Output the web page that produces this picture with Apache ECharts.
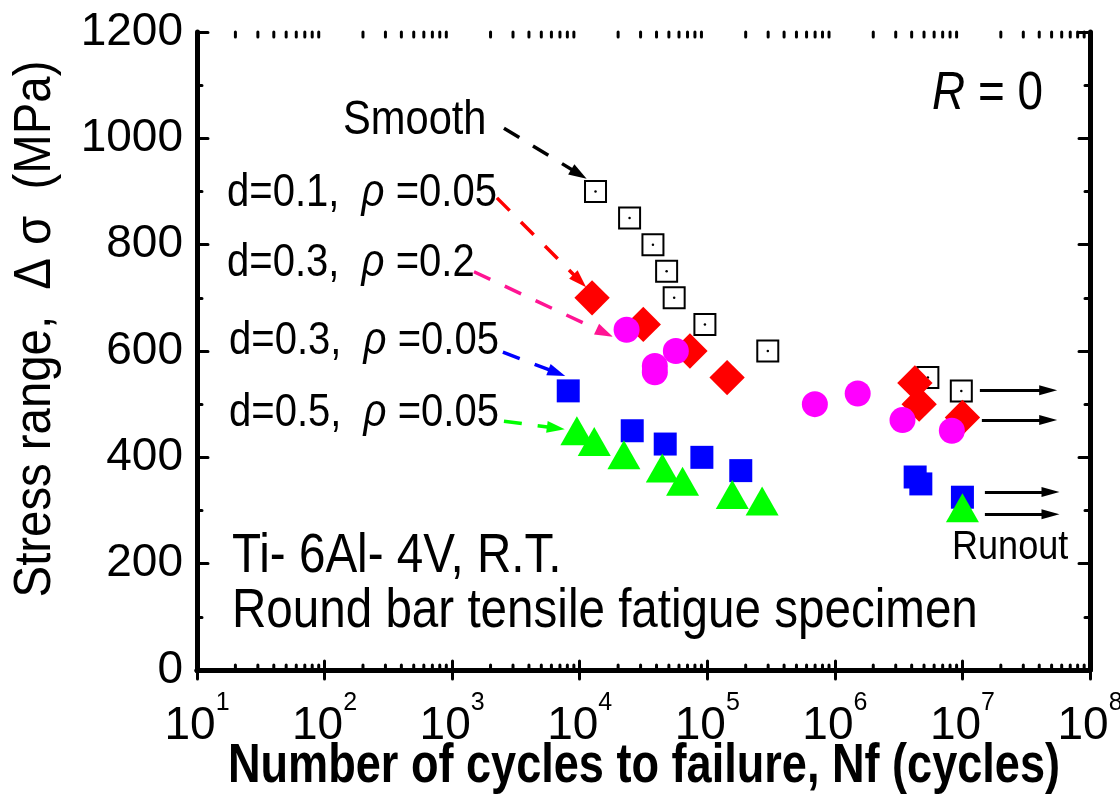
<!DOCTYPE html>
<html>
<head>
<meta charset="utf-8">
<script src="https://cdn.jsdelivr.net/npm/echarts@6/dist/echarts.min.js"></script>
</head>
<body style="margin:0;background:#fff">
<div id="main" style="width:1120px;height:795px;"></div>
<script type="text/javascript">
// number of cycles / stress range
var smoothN = [13300, 24600, 37500, 48000, 55000, 95800, 298000, 5360000, 9800000];
var smoothS = [900, 850, 800, 750, 700, 650, 600, 550, 525];
var d01N = [12500, 31500, 73100, 143000, 4240000, 4580000, 10000000];
var d01S = [700, 650, 600, 550, 540, 500, 475];
var d03r02N = [23300, 38800, 38800, 56700, 697000, 1510000, 3390000, 8260000];
var d03r02S = [640, 572, 560, 600, 500, 520, 470, 450];
var d03N = [8130, 25800, 46800, 90700, 183000, 4260000, 4720000, 10000000];
var d03S = [525, 450, 425, 400, 375, 363, 350, 325];
var d05N = [9500, 13000, 22200, 44400, 64000, 157000, 269000, 10000000];
var d05S = [450, 430, 405, 380, 355, 330, 318, 305];
var runoutS = [526, 470, 335, 293];
var xDecades = [1, 2, 3, 4, 5, 6, 7, 8];
var minorSteps = [2, 3, 4, 5, 6, 7, 8, 9];

var FONT = '"Liberation Sans", Arial, sans-serif';

function pairs(xs, ys) {
    return xs.map(function (x, i) { return [x, ys[i]]; });
}

// minor ticks of the log axis (2..9 in each decade)
var minorX = [];
for (var d = 0; d < xDecades.length - 1; d++) {
    for (var k = 0; k < minorSteps.length; k++) {
        minorX.push([minorSteps[k] * Math.pow(10, xDecades[d]), 0]);
    }
}

var myChart = echarts.init(document.getElementById('main'), null, {renderer: 'canvas'});

var axisLineStyle = {color: '#000', width: 5};
var tickStyle = {color: '#000', width: 3, cap: 'round'};

function arrowLine(p1, p2, color) {
    return [{coord: p1, lineStyle: {color: color}}, {coord: p2}];
}

// condensed looking text: the original font is narrow, so squeeze it a bit
function txt(x, y, text, font, sx, extra) {
    var el = {type: 'text', x: x, y: y, scaleX: sx, silent: true,
        style: {text: text, font: font, fill: '#000', verticalAlign: 'middle'}};
    if (extra) {
        for (var key in extra) { el.style[key] = extra[key]; }
    }
    return el;
}
function rhoLabel(x, y, text) {
    return txt(x, y, text, '46px ' + FONT, 0.87, {
        rich: {
            n: {fontFamily: FONT, fontSize: 46, fill: '#000'},
            g: {fontFamily: FONT, fontSize: 46, fontStyle: 'italic', fill: '#000'}
        }
    });
}

var option = {
    animation: false,
    backgroundColor: '#fff',
    grid: {left: 197, top: 32, right: 30, bottom: 125, containLabel: false, outerBoundsMode: 'none'},
    xAxis: [{
        type: 'log', logBase: 10, min: 10, max: 1e8, splitNumber: 7,
        axisLine: {lineStyle: axisLineStyle},
        axisTick: {inside: true, length: 9, lineStyle: tickStyle},
        splitLine: {show: false},
        axisLabel: {
            margin: 21,
            formatter: function (v) {
                return '{b|10}{s|' + Math.round(Math.log10(v)) + '}';
            },
            rich: {
                b: {fontFamily: FONT, fontSize: 46, color: '#000', lineHeight: 70},
                s: {fontFamily: FONT, fontSize: 25, color: '#000', verticalAlign: 'top', lineHeight: 25}
            }
        }
    }, {
        type: 'log', logBase: 10, min: 10, max: 1e8, splitNumber: 7, position: 'top',
        axisLine: {lineStyle: axisLineStyle},
        axisTick: {inside: true, length: 9, lineStyle: tickStyle},
        axisLabel: {show: false}, splitLine: {show: false}
    }],
    yAxis: [{
        type: 'value', min: 0, max: 1200, interval: 200,
        axisLine: {show: true, lineStyle: axisLineStyle},
        axisTick: {show: true, inside: true, length: 11, lineStyle: tickStyle},
        minorTick: {show: true, splitNumber: 2, length: 5, lineStyle: tickStyle},
        splitLine: {show: false},
        axisLabel: {
            margin: 14, fontFamily: FONT, fontSize: 46, color: '#000',
            formatter: function (v) { return String(v); }
        }
    }, {
        type: 'value', min: 0, max: 1200, interval: 200, position: 'right',
        axisLine: {show: true, lineStyle: axisLineStyle},
        axisTick: {show: true, inside: true, length: 11, lineStyle: tickStyle},
        minorTick: {show: true, splitNumber: 2, length: 5, lineStyle: tickStyle},
        axisLabel: {show: false}, splitLine: {show: false}
    }],
    series: [{
        name: 'minor ticks',
        type: 'custom',
        silent: true,
        clip: false,
        data: minorX,
        renderItem: function (params, api) {
            var b = api.coord([api.value(0), 0]);
            var t = api.coord([api.value(0), 1200]);
            var st = {stroke: '#000', lineWidth: 3, lineCap: 'round'};
            return {type: 'group', children: [
                {type: 'line', shape: {x1: b[0], y1: b[1], x2: b[0], y2: b[1] - 5}, style: st},
                {type: 'line', shape: {x1: t[0], y1: t[1], x2: t[0], y2: t[1] + 5}, style: st}
            ]};
        }
    }, {
        name: 'Smooth',
        type: 'scatter',
        symbol: 'rect', symbolSize: 21,
        itemStyle: {color: '#fff', borderColor: '#000', borderWidth: 2, opacity: 1},
        data: pairs(smoothN, smoothS),
        markLine: {
            silent: true, symbol: ['none', 'triangle'], symbolSize: [12, 18],
            label: {show: false},
            lineStyle: {type: [18, 16], width: 3.5, color: '#000', opacity: 1},
            data: [
                arrowLine([2547, 1019], [9860, 933], '#000'),
                arrowLine([2244, 888], [10010, 732], '#ff0000'),
                arrowLine([1483, 749], [15700, 634], '#ff1493'),
                arrowLine([2500, 598], [6620, 559], '#0000ff'),
                arrowLine([2547, 468], [6500, 455], '#00ff00')
            ]
        }
    }, {
        name: 'Smooth centre',
        type: 'scatter', silent: true,
        symbol: 'circle', symbolSize: 2.5,
        itemStyle: {color: '#000', opacity: 1},
        data: pairs(smoothN, smoothS),
        markLine: {
            silent: true, symbol: ['none', 'triangle'], symbolSize: [10, 18],
            label: {show: false},
            lineStyle: {type: 'solid', width: 3, color: '#000', opacity: 1},
            data: [
                [{coord: [1.37e7, runoutS[0]]}, {coord: [4.7e7, runoutS[0]]}],
                [{coord: [1.42e7, runoutS[1]]}, {coord: [4.7e7, runoutS[1]]}],
                [{coord: [1.5e7, runoutS[2]]}, {coord: [4.9e7, runoutS[2]]}],
                [{coord: [1.5e7, runoutS[3]]}, {coord: [4.9e7, runoutS[3]]}]
            ]
        }
    }, {
        name: 'd=0.1, rho=0.05',
        type: 'scatter',
        symbol: 'rect', symbolSize: 25, symbolRotate: 45,
        itemStyle: {color: '#ff0000', opacity: 1},
        data: pairs(d01N, d01S)
    }, {
        name: 'd=0.3, rho=0.2',
        type: 'scatter',
        symbol: 'circle', symbolSize: 26,
        itemStyle: {color: '#ff00ff', opacity: 1},
        data: pairs(d03r02N, d03r02S)
    }, {
        name: 'd=0.3, rho=0.05',
        type: 'scatter',
        symbol: 'rect', symbolSize: 23,
        itemStyle: {color: '#0000ff', opacity: 1},
        data: pairs(d03N, d03S)
    }, {
        name: 'd=0.5, rho=0.05',
        type: 'scatter',
        symbol: 'triangle', symbolSize: [33, 29],
        itemStyle: {color: '#00ff00', opacity: 1},
        data: pairs(d05N, d05S)
    }],
    graphic: [
        // axis titles
        txt(644, 767, 'Number of cycles to failure, Nf (cycles)', 'bold 55px ' + FONT, 0.82, {align: 'center'}),
        {type: 'text', x: 36, y: 329, rotation: Math.PI / 2, scaleX: 0.91, silent: true,
            style: {text: 'Stress range,  Δ σ  (MPa)', font: '52px ' + FONT, fill: '#000',
                align: 'center', verticalAlign: 'middle'}},
        // annotations
        txt(343, 120, 'Smooth', '49px ' + FONT, 0.85),
        rhoLabel(227, 193, '{n|d=0.1,  }{g|ρ}{n| =0.05}'),
        rhoLabel(227, 263, '{n|d=0.3,  }{g|ρ}{n| =0.2}'),
        rhoLabel(229, 341, '{n|d=0.3,  }{g|ρ}{n| =0.05}'),
        rhoLabel(229, 413, '{n|d=0.5,  }{g|ρ}{n| =0.05}'),
        txt(232, 557, 'Ti- 6Al- 4V, R.T.', '55px ' + FONT, 0.865),
        txt(232, 612, 'Round bar tensile fatigue specimen', '55px ' + FONT, 0.865),
        txt(932, 94, '{i|R} = 0', '54px ' + FONT, 0.85, {rich: {i: {fontFamily: FONT, fontSize: 54, fontStyle: 'italic', fill: '#000'}}}),
        txt(952, 548, 'Runout', '41px ' + FONT, 0.88)
    ]
};

myChart.setOption(option);
</script>
</body>
</html>
